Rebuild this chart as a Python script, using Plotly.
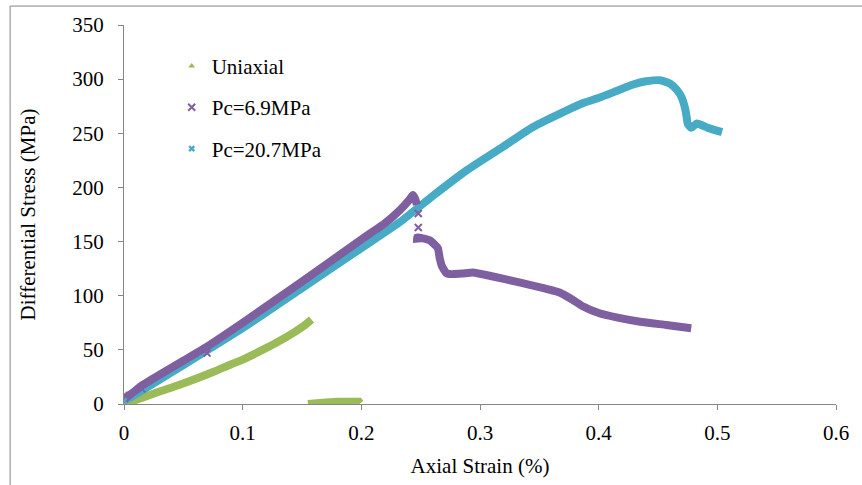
import plotly.graph_objects as go

# ---- data ----
uni_x1 = [0.0, 0.016, 0.030, 0.045, 0.060, 0.075, 0.090, 0.100, 0.115, 0.129, 0.143, 0.152, 0.158]
uni_y1 = [0.0, 6.0, 11.5, 17.0, 23.0, 29.5, 36.5, 41.0, 49.0, 57.0, 66.0, 72.5, 78.0]
uni_x2 = [0.155, 0.160, 0.170, 0.180, 0.190, 0.196, 0.198, 0.199]
uni_y2 = [0.0, 1.0, 1.5, 2.0, 2.8, 3.5, 2.0, 0.5]

pc69_x = [0.0, 0.002, 0.008, 0.015, 0.030, 0.050, 0.070, 0.100, 0.150, 0.200, 0.220, 0.2325, 0.240, 0.2435, 0.2455, 0.2468,
          None, 0.247, 0.247, 0.252, 0.258, 0.2645, 0.266, 0.268, 0.2715, 0.2746, 0.285, 0.294, 0.310, 0.334, 0.350,
          0.367, 0.377, 0.387, 0.400, 0.415, 0.435, 0.457, 0.478]
pc69_y = [3.0, 6.0, 11.0, 17.0, 27.0, 40.0, 53.0, 75.0, 113.0, 152.0, 167.0, 179.0, 188.0, 193.0, 189.0, 184.0,
          None, 149.0, 154.0, 153.0, 151.0, 144.0, 135.0, 127.0, 121.0, 120.0, 120.5, 121.5, 118.0, 112.0, 108.0,
          103.0, 97.0, 90.0, 84.0, 80.0, 76.0, 73.0, 70.0]
pc69_mx = [0.0, 0.015, 0.070, 0.248, 0.248]
pc69_my = [8.0, 14.0, 47.0, 176.0, 163.0]

pc207_x = [0.0, 0.010, 0.025, 0.050, 0.075, 0.100, 0.150, 0.200, 0.2325, 0.260, 0.289, 0.320, 0.345, 0.367, 0.387,
           0.401, 0.415, 0.429, 0.440, 0.4515, 0.460, 0.466, 0.470, 0.4726, 0.474, 0.475, 0.478, 0.4827, 0.492, 0.504]
pc207_y = [3.0, 9.0, 19.0, 36.0, 53.0, 70.0, 107.0, 144.0, 168.0, 192.0, 216.0, 238.0, 256.0, 268.0, 278.0,
           283.0, 289.0, 295.0, 298.0, 299.0, 296.0, 290.0, 283.0, 274.0, 266.0, 259.0, 255.0, 259.0, 255.0, 251.0]

x_ticks = [0, 0.1, 0.2, 0.3, 0.4, 0.5, 0.6]
x_labels = ["0", "0.1", "0.2", "0.3", "0.4", "0.5", "0.6"]
y_ticks = [0, 50, 100, 150, 200, 250, 300, 350]

GREEN = "#9BBB59"
PURPLE = "#7E60A0"
CYAN = "#48ABC6"
FONT = "Liberation Serif, Times New Roman, serif"
FS = 21

fig = go.Figure()

# thick bands formed by the dense markers
fig.add_trace(go.Scatter(x=uni_x1, y=uni_y1, mode="lines", line=dict(color=GREEN, width=8, shape="spline", smoothing=0.8),
                         showlegend=False, hoverinfo="skip", legendgroup="u"))
fig.add_trace(go.Scatter(x=uni_x2, y=uni_y2, mode="lines", line=dict(color=GREEN, width=8),
                         showlegend=False, hoverinfo="skip", legendgroup="u"))
fig.add_trace(go.Scatter(x=pc207_x, y=pc207_y, mode="lines", line=dict(color=CYAN, width=8, shape="spline", smoothing=0.5),
                         showlegend=False, hoverinfo="skip", legendgroup="c"))
fig.add_trace(go.Scatter(x=pc69_x, y=pc69_y, mode="lines", line=dict(color=PURPLE, width=8, shape="spline", smoothing=0.4),
                         showlegend=False, hoverinfo="skip", legendgroup="p", connectgaps=False))

# legend / marker traces
fig.add_trace(go.Scatter(x=[uni_x1[0]], y=[uni_y1[0]], mode="markers", name="Uniaxial", legendgroup="u",
                         marker=dict(symbol="triangle-up", color=GREEN, size=6)))
fig.add_trace(go.Scatter(x=pc69_mx, y=pc69_my, mode="markers", name="Pc=6.9MPa", legendgroup="p",
                         marker=dict(symbol="x-thin-open", color=PURPLE, size=7, line=dict(color=PURPLE, width=2))))
fig.add_trace(go.Scatter(x=[pc207_x[0]], y=[pc207_y[0]], mode="markers", name="Pc=20.7MPa", legendgroup="c",
                         marker=dict(symbol="x", color=CYAN, size=6)))

axis_common = dict(showgrid=False, zeroline=False, showline=True, linecolor="#868686", linewidth=1,
                   ticks="outside", ticklen=5, tickcolor="#868686", tickfont=dict(family=FONT, size=FS, color="#000"))

fig.update_xaxes(range=[0, 0.6], tickvals=x_ticks, ticktext=x_labels, ticklabelstandoff=5, **axis_common,
                 title=dict(text="Axial Strain (%)", font=dict(family=FONT, size=FS, color="#000"), standoff=14))
fig.update_yaxes(range=[0, 350], tickvals=y_ticks, ticklabelstandoff=10, **axis_common,
                 title=dict(text="Differential Stress (MPa)", font=dict(family=FONT, size=FS, color="#000"), standoff=30))

# outer frame (top and left edges visible in reference)
fig.add_shape(type="line", xref="paper", yref="paper", x0=-0.160, x1=1.1, y0=1.050, y1=1.050,
              line=dict(color="#868686", width=1))
fig.add_shape(type="line", xref="paper", yref="paper", x0=-0.160, x1=-0.160, y0=1.050, y1=-0.3,
              line=dict(color="#868686", width=1))

fig.update_layout(
    width=862, height=485,
    margin=dict(l=124, r=26, t=25, b=81),
    paper_bgcolor="white", plot_bgcolor="white",
    font=dict(family=FONT, size=FS, color="#000"),
    legend=dict(x=0.067, y=0.945, xanchor="left", yanchor="top", tracegroupgap=11,
                font=dict(family=FONT, size=FS, color="#000"), bgcolor="rgba(0,0,0,0)"),
    showlegend=True,
)

fig.write_html("out.html")
